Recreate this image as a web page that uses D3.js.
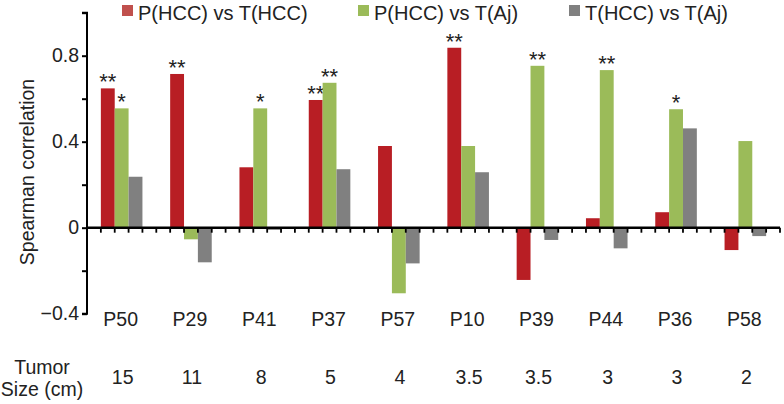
<!DOCTYPE html>
<html><head><meta charset="utf-8">
<script src="https://cdn.jsdelivr.net/npm/d3@7"></script>
<style>body{margin:0;background:#fff}svg{display:block;font-family:"Liberation Sans",Arial,sans-serif}</style>
</head><body><svg id="c" width="784" height="404"></svg>
<script>
const categories = ["P50","P29","P41","P37","P57","P10","P39","P44","P36","P58"];
const tumorSizes = ["15","11","8","5","4","3.5","3.5","3","3","2"];
const seriesNames = ["P(HCC) vs T(HCC)","P(HCC) vs T(Aj)","T(HCC) vs T(Aj)"];
const hccVsHcc = [0.648,0.715,0.281,0.594,0.38,0.837,-0.243,0.044,0.072,-0.104];
const hccVsAj  = [0.555,-0.054,0.555,0.674,-0.305,0.38,0.753,0.733,0.551,0.403];
const tVsAj    = [0.237,-0.161,-0.01,0.272,-0.166,0.258,-0.057,-0.096,0.462,-0.039];
const stars1 = ["**","**","","**","","**","","","",""];
const stars2 = ["*","","*","**","","","**","**","*",""];
const stars3 = ["","","","","","","","","",""];
const yTicks = [-0.4,-0.2,0,0.2,0.4,0.6,0.8,1.0];
const yLabels = [-0.4,0,0.4,0.8];

const colors = ["#B81E24","#9BBB59","#808080"];
const legendColors = ["#C0504D","#9BBB59","#808080"];
const seriesVals = [hccVsHcc,hccVsAj,tVsAj];
const seriesStars = [stars1,stars2,stars3];

const svg = d3.select("#c");
const x0 = 87, x1 = 780;
const x = d3.scaleBand().domain(categories).range([x0,x1]).padding(0);
const xi = d3.scaleBand().domain(seriesNames).range([0,x.bandwidth()]).paddingInner(0).paddingOuter(1);
const y = d3.scaleLinear().domain([-0.4,1.0]).range([313.7,12.7]);

// bars
seriesNames.forEach((s,si)=>{
  const data = categories.map((c,i)=>({c,v:seriesVals[si][i],st:seriesStars[si][i]}));
  svg.append("g").selectAll("rect").data(data).join("rect")
    .attr("x",d=>x(d.c)+xi(s))
    .attr("width",xi.bandwidth())
    .attr("y",d=>y(Math.max(0,d.v)))
    .attr("height",d=>Math.abs(y(d.v)-y(0)))
    .attr("fill",colors[si]);
  svg.append("g").selectAll("text").data(data.filter(d=>d.st)).join("text")
    .attr("x",d=>x(d.c)+xi(s)+xi.bandwidth()/2)
    .attr("y",d=>y(d.v)+1)
    .attr("text-anchor","middle")
    .attr("font-size",22)
    .attr("fill","#222")
    .text(d=>d.st);
});

// y axis
const yAxis = d3.axisLeft(y).tickValues(yTicks).tickSize(5).tickPadding(3)
  .tickFormat(d=>yLabels.some(v=>Math.abs(v-d)<1e-9)?(Math.abs(d)<1e-9?"0":d3.format(".1f")(d)):"");
const gy = svg.append("g").attr("transform",`translate(${x0},0)`).call(yAxis);
gy.select(".domain").attr("stroke","#000").attr("stroke-width",2).attr("d",`M-5,${y(1.0)}H0V${y(-0.4)}H-5`);
gy.selectAll(".tick line").attr("stroke","#000").attr("stroke-width",2);
gy.selectAll(".tick text").attr("font-size",19.5).attr("fill","#222").attr("font-family","Liberation Sans, Arial, sans-serif");

// x axis at zero with slot ticks
const slotTicks = [];
categories.forEach(c=>{ for(let k=0;k<5;k++) slotTicks.push(x(c)+k*xi.step()); });
slotTicks.push(x1);
const gx = svg.append("g");
gx.append("line").attr("x1",x0).attr("x2",x1).attr("y1",y(0)).attr("y2",y(0)).attr("stroke","#000").attr("stroke-width",2.5);
gx.selectAll("line.t").data(slotTicks).join("line").attr("class","t")
  .attr("x1",d=>d).attr("x2",d=>d).attr("y1",y(0)).attr("y2",y(0)+5)
  .attr("stroke","#000").attr("stroke-width",1.8);

// category labels
svg.append("g").selectAll("text").data(categories).join("text")
  .attr("x",d=>x(d)+x.bandwidth()/2-1).attr("y",326)
  .attr("text-anchor","middle").attr("font-size",19.5).attr("fill","#222").text(d=>d);
svg.append("g").selectAll("text").data(tumorSizes).join("text")
  .attr("x",(d,i)=>x(categories[i])+x.bandwidth()/2+1).attr("y",384)
  .attr("text-anchor","middle").attr("font-size",19.5).attr("fill","#222").text(d=>d);
svg.append("text").attr("x",42).attr("y",374).attr("text-anchor","middle").attr("font-size",19.5).attr("fill","#222").text("Tumor");
svg.append("text").attr("x",42).attr("y",396).attr("text-anchor","middle").attr("font-size",19.5).attr("fill","#222").text("Size (cm)");

// y title
svg.append("text").attr("transform","translate(34,172) rotate(-90)").attr("text-anchor","middle")
  .attr("font-size",19.5).attr("fill","#222").text("Spearman correlation");

// legend
const legX = [122,358,569];
seriesNames.forEach((s,i)=>{
  svg.append("rect").attr("x",legX[i]).attr("y",5).attr("width",11).attr("height",11).attr("fill",legendColors[i]);
  svg.append("text").attr("x",legX[i]+16).attr("y",19.5).attr("font-size",20).attr("fill","#222").text(s);
});
</script></body></html>
